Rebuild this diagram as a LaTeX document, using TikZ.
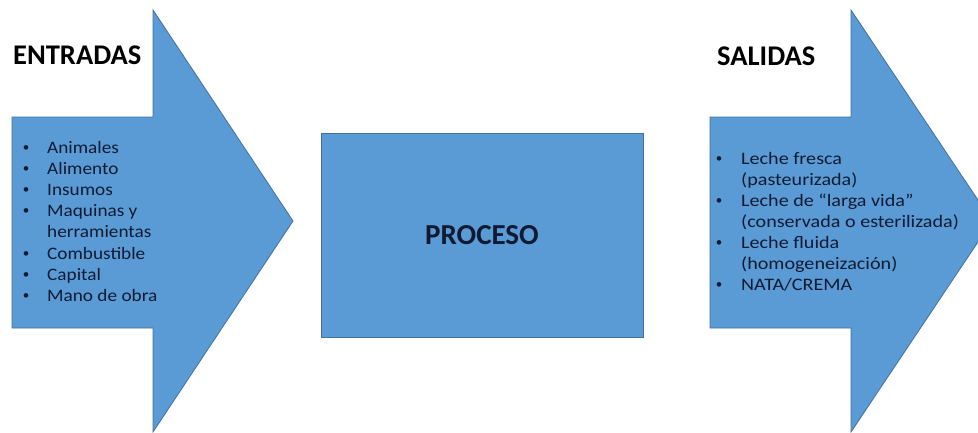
\documentclass[tikz,border=0pt]{standalone}
\usepackage{fontspec}
\setmainfont{Carlito}
\definecolor{shapefill}{HTML}{5B9BD5}
\definecolor{shapeline}{HTML}{41719C}
\definecolor{boxtext}{HTML}{101B33}
\newcommand{\sepslash}{/}
\begin{document}
\begin{tikzpicture}[x=1pt,y=-1pt,
  shapebox/.style={fill=shapefill,draw=shapeline,line width=0.8pt,line join=miter},
  heading/.style={font=\bfseries\fontsize{28.5}{30}\selectfont,text=black,anchor=base west,inner sep=0pt},
  center label/.style={font=\bfseries\fontsize{29}{30}\selectfont,text=boxtext,inner sep=0pt},
  listline/.style={font=\fontsize{17.5}{21}\selectfont,text=boxtext,anchor=base west,inner sep=0pt},
  bulletmark/.style={font=\fontsize{13}{13}\selectfont,text=boxtext,anchor=base,inner sep=0pt}]
  \useasboundingbox (0,0) rectangle (978,432);
  \begin{scope}
    \clip (0,0) rectangle (978,432);
    % input arrow
    \draw[shapebox] (12,117) -- (153,117) -- (153,10) -- (293,221) -- (153,432)
      -- (153,328) -- (12,328) -- cycle;
    % process box
    \node[shapebox,minimum width=322pt,minimum height=204pt,inner sep=0pt]
      (proceso) at (482,235) {};
    % output arrow
    \draw[shapebox] (710,117) -- (851,117) -- (851,10) -- (992,221) -- (851,432)
      -- (851,328) -- (710,328) -- cycle;
  \end{scope}

  \node[heading] (entradas) at (13,64) {ENTRADAS};
  \node[heading] (salidas) at (717,65) {SALIDAS};
  \node[center label] (procesotxt) at (proceso.center) {PROCESO};

  % inputs
  \foreach \txt/\yy/\b [count=\i] in {Animales/153/1, Alimento/174.2/1, Insumos/195.4/1,
      Maquinas y/216.6/1, herramientas/237.8/0, Combustible/259/1, Capital/280.2/1,
      Mano de obra/301.4/1}{
    \node[listline] (in\i) at (47,\yy) {\scalebox{1.1}[1]{\txt}};
    \ifnum\b=1 \node[bulletmark] (inb\i) at (26,\yy-2) {\textbullet}; \fi
  }

  % outputs
  \foreach \txt/\yy/\b [count=\i] in {Leche fresca/164.3/1, (pasteurizada)/185.4/0,
      Leche de “larga vida”/206.5/1, (conservada o esterilizada)/227.6/0,
      Leche fluida/248.7/1, (homogeneización)/269.8/0, NATA\sepslash CREMA/290.9/1}{
    \node[listline] (out\i) at (741,\yy) {\scalebox{1.15}[1]{\txt}};
    \ifnum\b=1 \node[bulletmark] (outb\i) at (719,\yy-2) {\textbullet}; \fi
  }
\end{tikzpicture}
\end{document}
